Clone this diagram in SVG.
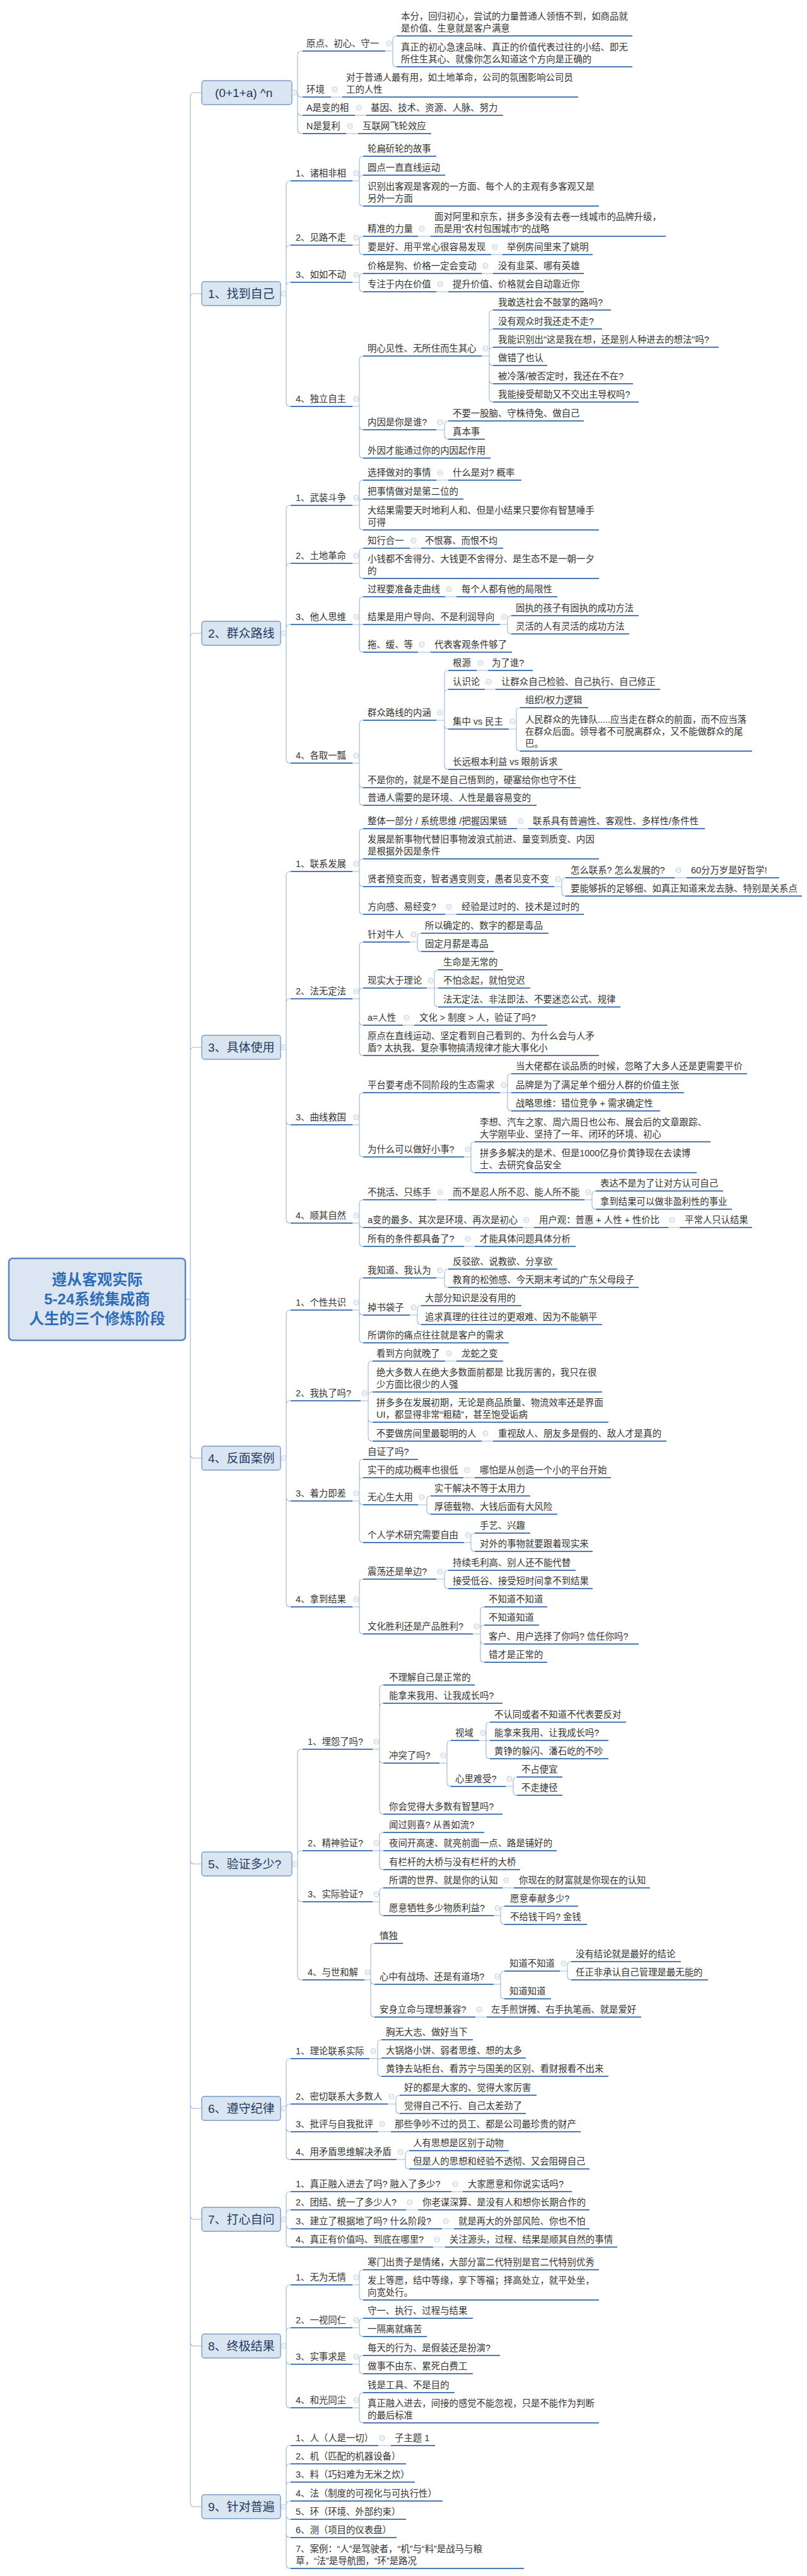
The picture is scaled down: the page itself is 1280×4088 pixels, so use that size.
<svg xmlns="http://www.w3.org/2000/svg" xmlns:xlink="http://www.w3.org/1999/xlink" width="1280" height="4088" viewBox="0 0 1280 4088">
<style>
.t{font-family:"Liberation Sans","Noto Sans CJK SC",sans-serif;font-size:14.4px;fill:#333}
.h{font-family:"Liberation Sans","Noto Sans CJK SC",sans-serif;font-size:19px;fill:#1f3a60}
.r{font-family:"Liberation Sans","Noto Sans CJK SC",sans-serif;font-size:24px;font-weight:bold;fill:#2f6db8}
.u{fill:none;stroke:#4d7ab5;stroke-width:2}
.c{fill:none;stroke:#9eb6d5;stroke-width:1.1}
.b{fill:#dae5f2;stroke:#7b9cc9;stroke-width:1.4}
.rb{fill:#dce6f3;stroke:#5b86c4;stroke-width:2.5}
</style>
<defs>
<g id="col"><circle r="4" fill="#fff" stroke="#b9c7d9" stroke-width="1"/><path d="M-2 0H2" stroke="#b9c7d9" stroke-width="1"/></g>
</defs>
<rect width="1280" height="4088" fill="#fff"/>
<g id="connectors">
<path class="c" d="M294 2062H302 M302 153V3972 M302 153Q302 147 308 147H320 M302 472Q302 466 308 466H320 M302 1011Q302 1005 308 1005H320 M302 1668Q302 1662 308 1662H320 M302 2308Q302 2314 308 2314H320 M302 2952Q302 2958 308 2958H320 M302 3340Q302 3346 308 3346H320 M302 3516Q302 3522 308 3522H320 M302 3717Q302 3723 308 3723H320 M302 3972Q302 3978 308 3978H320"/>
<path class="c" d="M463 147H472 M472 147V87Q472 81 478 81H480 M472 147V148Q472 154 478 154H480 M472 147V177Q472 183 478 183H480 M472 147V206Q472 212 478 212H480"/>
<path class="c" d="M611 81H623 M623 81V63Q623 57 629 57 M623 81V100Q623 106 629 106 M525 154H543 M563 183H581 M549 212H568"/>
<path class="c" d="M445 466H454 M454 466V293Q454 287 460 287H461 M454 466V395Q454 389 460 389H461 M454 466V454Q454 448 460 448H461 M454 466V639Q454 645 460 645H461"/>
<path class="c" d="M559 287H570 M570 287V254Q570 248 576 248 M570 287V284Q570 278 576 278 M570 287V321Q570 327 576 327"/>
<path class="c" d="M559 389H570 M570 389V381Q570 375 576 375 M570 389V398Q570 404 576 404 M663 375H683 M779 404H797"/>
<path class="c" d="M559 448H570 M570 448V440Q570 434 576 434 M570 448V457Q570 463 576 463 M764 434H782 M692 463H711"/>
<path class="c" d="M559 645H570 M570 645V571Q570 565 576 565 M570 645V676Q570 682 576 682 M570 645V721Q570 727 576 727"/>
<path class="c" d="M764 565H776 M776 565V498Q776 492 782 492 M776 565V528Q776 522 782 522 M776 565V557Q776 551 782 551 M776 565V574Q776 580 782 580 M776 565V603Q776 609 782 609 M776 565V632Q776 638 782 638"/>
<path class="c" d="M692 682H705 M705 682V674Q705 668 711 668 M705 682V691Q705 697 711 697"/>
<path class="c" d="M445 1005H454 M454 1005V808Q454 802 460 802H461 M454 1005V900Q454 894 460 894H461 M454 1005V997Q454 991 460 991H461 M454 1005V1205Q454 1211 460 1211H461"/>
<path class="c" d="M559 802H570 M570 802V768Q570 762 576 762 M570 802V798Q570 792 576 792 M570 802V835Q570 841 576 841 M692 762H711"/>
<path class="c" d="M559 894H570 M570 894V876Q570 870 576 870 M570 894V912Q570 918 576 918 M650 870H668"/>
<path class="c" d="M559 991H576 M570 991V953Q570 947 576 947 M570 991V1029Q570 1035 576 1035 M706 947H724 M663 1035H683"/>
<path class="c" d="M793 991H805 M805 991V983Q805 977 811 977 M805 991V1000Q805 1006 811 1006"/>
<path class="c" d="M559 1211H570 M570 1211V1149Q570 1143 576 1143 M570 1211V1244Q570 1250 576 1250 M570 1211V1272Q570 1278 576 1278"/>
<path class="c" d="M692 1143H705 M705 1143V1070Q705 1064 711 1064 M705 1143V1100Q705 1094 711 1094 M705 1143V1151Q705 1157 711 1157 M705 1143V1215Q705 1221 711 1221 M756 1064H774 M769 1094H786"/>
<path class="c" d="M807 1157H819 M819 1157V1129Q819 1123 825 1123 M819 1157V1186Q819 1192 825 1192"/>
<path class="c" d="M445 1662H454 M454 1662V1389Q454 1383 460 1383H461 M454 1662V1591Q454 1585 460 1585H461 M454 1662V1779Q454 1785 460 1785H461 M454 1662V1935Q454 1941 460 1941H461"/>
<path class="c" d="M559 1383H570 M570 1383V1321Q570 1315 576 1315 M570 1383V1369Q570 1363 576 1363 M570 1383V1401Q570 1407 576 1407 M570 1383V1445Q570 1451 576 1451 M820 1315H838 M706 1451H724"/>
<path class="c" d="M879 1407H891 M891 1407V1399Q891 1393 897 1393 M891 1407V1416Q891 1422 897 1422 M1070 1393H1089"/>
<path class="c" d="M559 1585H570 M570 1585V1501Q570 1495 576 1495 M570 1585V1574Q570 1568 576 1568 M570 1585V1621Q570 1627 576 1627 M570 1585V1669Q570 1675 576 1675 M639 1627H657"/>
<path class="c" d="M650 1495H662 M662 1495V1487Q662 1481 668 1481 M662 1495V1504Q662 1510 668 1510"/>
<path class="c" d="M677 1568H695 M689 1568V1545Q689 1539 695 1539 M689 1568V1592Q689 1598 695 1598"/>
<path class="c" d="M559 1785H570 M570 1785V1740Q570 1734 576 1734 M570 1785V1830Q570 1836 576 1836"/>
<path class="c" d="M793 1734H811 M805 1734V1710Q805 1704 811 1704 M805 1734V1757Q805 1763 811 1763"/>
<path class="c" d="M736 1836H747 M747 1836V1818Q747 1812 753 1812 M747 1836V1855Q747 1861 753 1861"/>
<path class="c" d="M559 1941H570 M570 1941V1910Q570 1904 576 1904 M570 1941V1942Q570 1948 576 1948 M570 1941V1972Q570 1978 576 1978 M692 1904H711 M829 1948H847 M1060 1948H1078 M736 1978H753"/>
<path class="c" d="M927 1904H939 M939 1904V1896Q939 1890 945 1890 M939 1904V1913Q939 1919 945 1919"/>
<path class="c" d="M445 2314H454 M454 2314V2085Q454 2079 460 2079H461 M454 2314V2229Q454 2223 460 2223H461 M454 2314V2376Q454 2382 460 2382H461 M454 2314V2544Q454 2550 460 2550H461"/>
<path class="c" d="M559 2079H570 M570 2079V2034Q570 2028 576 2028 M570 2079V2081Q570 2087 576 2087 M570 2079V2125Q570 2131 576 2131"/>
<path class="c" d="M692 2028H705 M705 2028V2020Q705 2014 711 2014 M705 2028V2037Q705 2043 711 2043"/>
<path class="c" d="M650 2087H662 M662 2087V2078Q662 2072 668 2072 M662 2087V2096Q662 2102 668 2102"/>
<path class="c" d="M572 2223H584 M584 2223V2166Q584 2160 590 2160H591 M584 2223V2215Q584 2209 590 2209H591 M584 2223V2251Q584 2257 590 2257H591 M584 2223V2281Q584 2287 590 2287H591 M706 2160H724 M764 2287H782"/>
<path class="c" d="M559 2382H570 M570 2382V2322Q570 2316 576 2316 M570 2382V2351Q570 2345 576 2345 M570 2382Q570 2388 576 2388 M570 2382V2442Q570 2448 576 2448 M735 2345H753"/>
<path class="c" d="M663 2388H677 M677 2388V2380Q677 2374 683 2374 M677 2388V2397Q677 2403 683 2403"/>
<path class="c" d="M736 2448H747 M747 2448V2439Q747 2433 753 2433 M747 2448V2456Q747 2462 753 2462"/>
<path class="c" d="M559 2550H570 M570 2550V2512Q570 2506 576 2506 M570 2550V2587Q570 2593 576 2593"/>
<path class="c" d="M692 2506H705 M705 2506V2498Q705 2492 711 2492 M705 2506V2515Q705 2521 711 2521"/>
<path class="c" d="M750 2593H762 M762 2593V2556Q762 2550 768 2550 M762 2593V2585Q762 2579 768 2579 M762 2593V2603Q762 2609 768 2609 M762 2593V2632Q762 2638 768 2638"/>
<path class="c" d="M463 2958H472 M472 2958V2782Q472 2776 478 2776H480 M472 2958V2943Q472 2937 478 2937H480 M472 2958V3012Q472 3018 478 3018H480 M472 2958V3136Q472 3142 478 3142H480"/>
<path class="c" d="M591 2776H602 M602 2776V2680Q602 2674 608 2674 M602 2776V2709Q602 2703 608 2703 M602 2776V2792Q602 2798 608 2798 M602 2776V2873Q602 2879 608 2879"/>
<path class="c" d="M697 2798H709 M709 2798V2768Q709 2762 715 2762 M709 2798V2829Q709 2835 715 2835"/>
<path class="c" d="M760 2762H777 M771 2762V2739Q771 2733 777 2733 M771 2762V2785Q771 2791 777 2791"/>
<path class="c" d="M802 2835H814 M814 2835V2826Q814 2820 820 2820 M814 2835V2843Q814 2849 820 2849"/>
<path class="c" d="M591 2937H608 M602 2937V2914Q602 2908 608 2908 M602 2937V2961Q602 2967 608 2967"/>
<path class="c" d="M591 3018H602 M602 3018V3002Q602 2996 608 2996 M602 3018V3034Q602 3040 608 3040 M797 2996H815"/>
<path class="c" d="M783 3040H794 M794 3040V3031Q794 3025 800 3025 M794 3040V3048Q794 3054 800 3054"/>
<path class="c" d="M578 3142H588 M588 3142V3090Q588 3084 594 3084 M588 3142V3143Q588 3149 594 3149 M588 3142V3195Q588 3201 594 3201 M754 3201H772"/>
<path class="c" d="M783 3149H794 M794 3149V3134Q794 3128 800 3128 M794 3149V3166Q794 3172 800 3172"/>
<path class="c" d="M888 3128H900 M900 3128V3119Q900 3113 906 3113 M900 3128V3136Q900 3142 906 3142"/>
<path class="c" d="M445 3346H454 M454 3346V3273Q454 3267 460 3267H461 M454 3346V3345Q454 3339 460 3339H461 M454 3346V3377Q454 3383 460 3383H461 M454 3346V3421Q454 3427 460 3427H461"/>
<path class="c" d="M586 3267H605 M599 3267V3243Q599 3237 605 3237 M599 3267V3289Q599 3295 605 3295"/>
<path class="c" d="M615 3339H628 M628 3339V3331Q628 3325 634 3325 M628 3339V3348Q628 3354 634 3354 M600 3383H620"/>
<path class="c" d="M629 3427H643 M643 3427V3419Q643 3413 649 3413 M643 3427V3436Q643 3442 649 3442"/>
<path class="c" d="M445 3522H454 M454 3522V3484Q454 3478 460 3478H461 M454 3522V3513Q454 3507 460 3507H461 M454 3522V3531Q454 3537 460 3537H461 M454 3522V3560Q454 3566 460 3566H461 M716 3478H734 M644 3507H663 M701 3537H720 M687 3566H706"/>
<path class="c" d="M445 3723H454 M454 3723V3632Q454 3626 460 3626H461 M454 3723V3700Q454 3694 460 3694H461 M454 3723V3746Q454 3752 460 3752H461 M454 3723V3815Q454 3821 460 3821H461"/>
<path class="c" d="M559 3626H570 M570 3626V3608Q570 3602 576 3602 M570 3626V3644Q570 3650 576 3650 M559 3694H570 M570 3694V3685Q570 3679 576 3679 M570 3694V3702Q570 3708 576 3708"/>
<path class="c" d="M559 3752H570 M570 3752V3744Q570 3738 576 3738 M570 3752V3761Q570 3767 576 3767 M559 3821H570 M570 3821V3803Q570 3797 576 3797 M570 3821V3839Q570 3845 576 3845"/>
<path class="c" d="M445 3978H454 M454 3978V3887Q454 3881 460 3881H461 M454 3978V3916Q454 3910 460 3910H461 M454 3978V3945Q454 3939 460 3939H461 M454 3978V3975Q454 3969 460 3969H461 M454 3978V3992Q454 3998 460 3998H461 M454 3978V4021Q454 4027 460 4027H461 M454 3978V4070Q454 4076 460 4076H461 M600 3881H620"/>
</g>

<g id="root"><rect class="rb" x="14" y="1997" width="280" height="130" rx="6"/><text class="r" text-anchor="middle"><tspan x="154" y="2039">遵从客观实际</tspan><tspan x="154" y="2070">5-24系统集成商</tspan><tspan x="154" y="2101">人生的三个修炼阶段</tspan></text></g>

<g id="n1"><rect class="b" x="320" y="128" width="143" height="38" rx="4"/><text class="h" x="341" y="154">(0+1+a)  ^n</text><use href="#col" x="467" y="147"/></g>
<g id="n1-1"><text class="t" x="486" y="74">原点、初心、守一</text><path class="u" d="M480 81H611"/><use href="#col" x="617" y="69"/></g>
<g id="n1-1a"><text class="t"><tspan x="636" y="31">本分，回归初心，尝试的力量普通人领悟不到，如商品就</tspan><tspan x="636" y="50">是价值、生意就是客户满意</tspan></text><path class="u" d="M629 57H1003"/></g>
<g id="n1-1b"><text class="t"><tspan x="636" y="80">真正的初心急速品味、真正的价值代表过往的小结、即无</tspan><tspan x="636" y="99">所住生其心、就像你怎么知道这个方向是正确的</tspan></text><path class="u" d="M629 106H1003"/></g>
<g id="n1-2"><text class="t" x="486" y="147">环境</text><path class="u" d="M480 154H525"/><use href="#col" x="531" y="142"/></g>
<g id="n1-2a"><text class="t"><tspan x="549" y="128">对于普通人最有用，如土地革命，公司的氛围影响公司员</tspan><tspan x="549" y="147">工的人性</tspan></text><path class="u" d="M543 154H917"/></g>
<g id="n1-3"><text class="t" x="486" y="176">A是变的相</text><path class="u" d="M480 183H563"/><use href="#col" x="569" y="171"/></g>
<g id="n1-3a"><text class="t" x="588" y="176">基因、技术、资源、人脉、努力</text><path class="u" d="M581 183H798"/></g>
<g id="n1-4"><text class="t" x="486" y="205">N是复利</text><path class="u" d="M480 212H549"/><use href="#col" x="555" y="200"/></g>
<g id="n1-4a"><text class="t" x="575" y="205">互联网飞轮效应</text><path class="u" d="M568 212H684"/></g>

<g id="n2"><rect class="b" x="320" y="447" width="125" height="38" rx="4"/><text class="h" x="330" y="473">1、找到自己</text><use href="#col" x="450" y="466"/></g>
<g id="n2-1"><text class="t" x="469" y="280">1、诸相非相</text><path class="u" d="M461 287H559"/><use href="#col" x="565" y="275"/></g>
<g id="n2-1a"><text class="t" x="583" y="241">轮扁斫轮的故事</text><path class="u" d="M576 248H692"/></g>
<g id="n2-1b"><text class="t" x="583" y="271">圆点一直直线运动</text><path class="u" d="M576 278H706"/></g>
<g id="n2-1c"><text class="t"><tspan x="583" y="301">识别出客观是客观的一方面、每个人的主观有多客观又是</tspan><tspan x="583" y="320">另外一方面</tspan></text><path class="u" d="M576 327H950"/></g>
<g id="n2-2"><text class="t" x="469" y="382">2、见路不走</text><path class="u" d="M461 389H559"/><use href="#col" x="565" y="377"/></g>
<g id="n2-2a"><text class="t" x="583" y="368">精准的力量</text><path class="u" d="M576 375H663"/><use href="#col" x="669" y="363"/></g>
<g id="n2-2a1"><text class="t"><tspan x="689" y="349">面对阿里和京东，拼多多没有去卷一线城市的品牌升级，</tspan><tspan x="689" y="368">而是用“农村包围城市”的战略</tspan></text><path class="u" d="M683 375H1056"/></g>
<g id="n2-2b"><text class="t" x="583" y="397">要是好、用平常心很容易发现</text><path class="u" d="M576 404H779"/><use href="#col" x="785" y="392"/></g>
<g id="n2-2b1"><text class="t" x="804" y="397">举例房间里来了姚明</text><path class="u" d="M797 404H940"/></g>
<g id="n2-3"><text class="t" x="469" y="441">3、如如不动</text><path class="u" d="M461 448H559"/><use href="#col" x="565" y="436"/></g>
<g id="n2-3a"><text class="t" x="583" y="427">价格是狗、价格一定会变动</text><path class="u" d="M576 434H764"/><use href="#col" x="770" y="422"/></g>
<g id="n2-3a1"><text class="t" x="790" y="427">没有韭菜、哪有英雄</text><path class="u" d="M782 434H926"/></g>
<g id="n2-3b"><text class="t" x="583" y="456">专注于内在价值</text><path class="u" d="M576 463H692"/><use href="#col" x="698" y="451"/></g>
<g id="n2-3b1"><text class="t" x="718" y="456">提升价值、价格就会自动靠近你</text><path class="u" d="M711 463H926"/></g>
<g id="n2-4"><text class="t" x="469" y="638">4、独立自主</text><path class="u" d="M461 645H559"/><use href="#col" x="565" y="633"/></g>
<g id="n2-4a"><text class="t" x="583" y="558">明心见性、无所住而生其心</text><path class="u" d="M576 565H764"/><use href="#col" x="770" y="553"/></g>
<g id="n2-4a1"><text class="t" x="790" y="485">我敢选社会不鼓掌的路吗?</text><path class="u" d="M782 492H969"/></g>
<g id="n2-4a2"><text class="t" x="790" y="515">没有观众时我还走不走?</text><path class="u" d="M782 522H955"/></g>
<g id="n2-4a3"><text class="t" x="790" y="544">我能识别出"这是我在想，还是别人种进去的想法"吗?</text><path class="u" d="M782 551H1140"/></g>
<g id="n2-4a4"><text class="t" x="790" y="573">做错了也认</text><path class="u" d="M782 580H868"/></g>
<g id="n2-4a5"><text class="t" x="790" y="602">被冷落/被否定时，我还在不在?</text><path class="u" d="M782 609H1004"/></g>
<g id="n2-4a6"><text class="t" x="790" y="631">我能接受帮助又不交出主导权吗?</text><path class="u" d="M782 638H1013"/></g>
<g id="n2-4b"><text class="t" x="583" y="675">内因是你是谁?</text><path class="u" d="M576 682H692"/><use href="#col" x="698" y="670"/></g>
<g id="n2-4b1"><text class="t" x="718" y="661">不要一股脑、守株待兔、做自己</text><path class="u" d="M711 668H926"/></g>
<g id="n2-4b2"><text class="t" x="718" y="690">真本事</text><path class="u" d="M711 697H769"/></g>
<g id="n2-4c"><text class="t" x="583" y="720">外因才能通过你的内因起作用</text><path class="u" d="M576 727H778"/></g>

<g id="n3"><rect class="b" x="320" y="986" width="125" height="38" rx="4"/><text class="h" x="330" y="1012">2、群众路线</text><use href="#col" x="450" y="1005"/></g>
<g id="n3-1"><text class="t" x="469" y="795">1、武装斗争</text><path class="u" d="M461 802H559"/><use href="#col" x="565" y="790"/></g>
<g id="n3-1a"><text class="t" x="583" y="755">选择做对的事情</text><path class="u" d="M576 762H692"/><use href="#col" x="698" y="750"/></g>
<g id="n3-1a1"><text class="t" x="718" y="755">什么是对? 概率</text><path class="u" d="M711 762H827"/></g>
<g id="n3-1b"><text class="t" x="583" y="785">把事情做对是第二位的</text><path class="u" d="M576 792H735"/></g>
<g id="n3-1c"><text class="t"><tspan x="583" y="815">大结果需要天时地利人和、但是小结果只要你有智慧唾手</tspan><tspan x="583" y="834">可得</tspan></text><path class="u" d="M576 841H950"/></g>
<g id="n3-2"><text class="t" x="469" y="887">2、土地革命</text><path class="u" d="M461 894H559"/><use href="#col" x="565" y="882"/></g>
<g id="n3-2a"><text class="t" x="583" y="863">知行合一</text><path class="u" d="M576 870H650"/><use href="#col" x="656" y="858"/></g>
<g id="n3-2a1"><text class="t" x="674" y="863">不恨寡、而恨不均</text><path class="u" d="M668 870H798"/></g>
<g id="n3-2b"><text class="t"><tspan x="583" y="892">小钱都不舍得分、大钱更不舍得分、是生态不是一朝一夕</tspan><tspan x="583" y="911">的</tspan></text><path class="u" d="M576 918H950"/></g>
<g id="n3-3"><text class="t" x="469" y="984">3、他人思维</text><path class="u" d="M461 991H559"/><use href="#col" x="565" y="979"/></g>
<g id="n3-3a"><text class="t" x="583" y="940">过程要准备走曲线</text><path class="u" d="M576 947H706"/><use href="#col" x="712" y="935"/></g>
<g id="n3-3a1"><text class="t" x="732" y="940">每个人都有他的局限性</text><path class="u" d="M724 947H884"/></g>
<g id="n3-3b"><text class="t" x="583" y="984">结果是用户导向、不是利润导向</text><path class="u" d="M576 991H793"/><use href="#col" x="799" y="979"/></g>
<g id="n3-3b1"><text class="t" x="818" y="970">固执的孩子有固执的成功方法</text><path class="u" d="M811 977H1013"/></g>
<g id="n3-3b2"><text class="t" x="818" y="999">灵活的人有灵活的成功方法</text><path class="u" d="M811 1006H998"/></g>
<g id="n3-3c"><text class="t" x="583" y="1028">拖、缓、等</text><path class="u" d="M576 1035H663"/><use href="#col" x="669" y="1023"/></g>
<g id="n3-3c1"><text class="t" x="689" y="1028">代表客观条件够了</text><path class="u" d="M683 1035H812"/></g>
<g id="n3-4"><text class="t" x="469" y="1204">4、各取一瓢</text><path class="u" d="M461 1211H559"/><use href="#col" x="565" y="1199"/></g>
<g id="n3-4a"><text class="t" x="583" y="1136">群众路线的内涵</text><path class="u" d="M576 1143H692"/><use href="#col" x="698" y="1131"/></g>
<g id="n3-4a1"><text class="t" x="718" y="1057">根源</text><path class="u" d="M711 1064H756"/><use href="#col" x="762" y="1052"/></g>
<g id="n3-4a1a"><text class="t" x="780" y="1057">为了谁?</text><path class="u" d="M774 1064H845"/></g>
<g id="n3-4a2"><text class="t" x="718" y="1087">认识论</text><path class="u" d="M711 1094H769"/><use href="#col" x="775" y="1082"/></g>
<g id="n3-4a2a"><text class="t" x="795" y="1087">让群众自己检验、自己执行、自己修正</text><path class="u" d="M786 1094H1047"/></g>
<g id="n3-4a3"><text class="t" x="718" y="1150">集中 vs 民主</text><path class="u" d="M711 1157H807"/><use href="#col" x="813" y="1145"/></g>
<g id="n3-4a3a"><text class="t" x="833" y="1116">组织/权力逻辑</text><path class="u" d="M825 1123H933"/></g>
<g id="n3-4a3b"><text class="t"><tspan x="833" y="1147">人民群众的先锋队.....应当走在群众的前面，而不应当落</tspan><tspan x="833" y="1166">在群众后面。领导者不可脱离群众，又不能做群众的尾</tspan><tspan x="833" y="1185">巴。</tspan></text><path class="u" d="M825 1192H1193"/></g>
<g id="n3-4a4"><text class="t" x="718" y="1214">长远根本利益 vs 眼前诉求</text><path class="u" d="M711 1221H892"/></g>
<g id="n3-4b"><text class="t" x="583" y="1243">不是你的，就是不是自己悟到的，硬塞给你也守不住</text><path class="u" d="M576 1250H921"/></g>
<g id="n3-4c"><text class="t" x="583" y="1271">普通人需要的是环境、人性是最容易变的</text><path class="u" d="M576 1278H851"/></g>

<g id="n4"><rect class="b" x="320" y="1643" width="125" height="38" rx="4"/><text class="h" x="330" y="1669">3、具体使用</text><use href="#col" x="450" y="1662"/></g>
<g id="n4-1"><text class="t" x="469" y="1376">1、联系发展</text><path class="u" d="M461 1383H559"/><use href="#col" x="565" y="1371"/></g>
<g id="n4-1a"><text class="t" x="583" y="1308">整体一部分 / 系统思维 /把握因果链</text><path class="u" d="M576 1315H820"/><use href="#col" x="826" y="1303"/></g>
<g id="n4-1a1"><text class="t" x="845" y="1308">联系具有普遍性、客观性、多样性/条件性</text><path class="u" d="M838 1315H1118"/></g>
<g id="n4-1b"><text class="t"><tspan x="583" y="1337">发展是新事物代替旧事物波浪式前进、量变到质变、内因</tspan><tspan x="583" y="1356">是根据外因是条件</tspan></text><path class="u" d="M576 1363H950"/></g>
<g id="n4-1c"><text class="t" x="583" y="1400">贤者预变而变，智者遇变则变，愚者见变不变</text><path class="u" d="M576 1407H879"/><use href="#col" x="885" y="1395"/></g>
<g id="n4-1c1"><text class="t" x="905" y="1386">怎么联系? 怎么发展的?</text><path class="u" d="M897 1393H1070"/><use href="#col" x="1076" y="1381"/></g>
<g id="n4-1c1a"><text class="t" x="1096" y="1386">60分万岁是好哲学!</text><path class="u" d="M1089 1393H1236"/></g>
<g id="n4-1c2"><text class="t" x="905" y="1415">要能够拆的足够细、如真正知道来龙去脉、特别是关系点</text><path class="u" d="M897 1422H1272"/></g>
<g id="n4-1d"><text class="t" x="583" y="1444">方向感、易经变?</text><path class="u" d="M576 1451H706"/><use href="#col" x="712" y="1439"/></g>
<g id="n4-1d1"><text class="t" x="732" y="1444">经验是过时的、技术是过时的</text><path class="u" d="M724 1451H926"/></g>
<g id="n4-2"><text class="t" x="469" y="1578">2、法无定法</text><path class="u" d="M461 1585H559"/><use href="#col" x="565" y="1573"/></g>
<g id="n4-2a"><text class="t" x="583" y="1488">针对牛人</text><path class="u" d="M576 1495H650"/><use href="#col" x="656" y="1483"/></g>
<g id="n4-2a1"><text class="t" x="674" y="1474">所以确定的、数字的都是毒品</text><path class="u" d="M668 1481H870"/></g>
<g id="n4-2a2"><text class="t" x="674" y="1503">固定月薪是毒品</text><path class="u" d="M668 1510H783"/></g>
<g id="n4-2b"><text class="t" x="583" y="1561">现实大于理论</text><path class="u" d="M576 1568H677"/><use href="#col" x="683" y="1556"/></g>
<g id="n4-2b1"><text class="t" x="703" y="1532">生命是无常的</text><path class="u" d="M695 1539H798"/></g>
<g id="n4-2b2"><text class="t" x="703" y="1561">不怕念起，就怕觉迟</text><path class="u" d="M695 1568H841"/></g>
<g id="n4-2b3"><text class="t" x="703" y="1591">法无定法、非法即法、不要迷恋公式、规律</text><path class="u" d="M695 1598H984"/></g>
<g id="n4-2c"><text class="t" x="583" y="1620">a=人性</text><path class="u" d="M576 1627H639"/><use href="#col" x="645" y="1615"/></g>
<g id="n4-2c1"><text class="t" x="665" y="1620">文化 &gt; 制度 &gt; 人，验证了吗?</text><path class="u" d="M657 1627H868"/></g>
<g id="n4-2d"><text class="t"><tspan x="583" y="1649">原点在直线运动、坚定看到自己看到的、为什么会与人矛</tspan><tspan x="583" y="1668">盾? 太执我、复杂事物搞清规律才能大事化小</tspan></text><path class="u" d="M576 1675H950"/></g>
<g id="n4-3"><text class="t" x="469" y="1778">3、曲线救国</text><path class="u" d="M461 1785H559"/><use href="#col" x="565" y="1773"/></g>
<g id="n4-3a"><text class="t" x="583" y="1727">平台要考虑不同阶段的生态需求</text><path class="u" d="M576 1734H793"/><use href="#col" x="799" y="1722"/></g>
<g id="n4-3a1"><text class="t" x="818" y="1697">当大佬都在谈品质的时候，忽略了大多人还是更需要平价</text><path class="u" d="M811 1704H1185"/></g>
<g id="n4-3a2"><text class="t" x="818" y="1727">品牌是为了满足单个细分人群的价值主张</text><path class="u" d="M811 1734H1085"/></g>
<g id="n4-3a3"><text class="t" x="818" y="1756">战略思维：错位竞争 + 需求确定性</text><path class="u" d="M811 1763H1047"/></g>
<g id="n4-3b"><text class="t" x="583" y="1829">为什么可以做好小事?</text><path class="u" d="M576 1836H736"/><use href="#col" x="742" y="1824"/></g>
<g id="n4-3b1"><text class="t"><tspan x="761" y="1786">李想、汽车之家、周六周日也公布、展会后的文章跟踪、</tspan><tspan x="761" y="1805">大学刚毕业、坚持了一年、闭环的环境、初心</tspan></text><path class="u" d="M753 1812H1127"/></g>
<g id="n4-3b2"><text class="t"><tspan x="761" y="1835">拼多多解决的是术、但是1000亿身价黄铮现在去读博</tspan><tspan x="761" y="1854">士、去研究食品安全</tspan></text><path class="u" d="M753 1861H1105"/></g>
<g id="n4-4"><text class="t" x="469" y="1934">4、顺其自然</text><path class="u" d="M461 1941H559"/><use href="#col" x="565" y="1929"/></g>
<g id="n4-4a"><text class="t" x="583" y="1897">不挑活、只练手</text><path class="u" d="M576 1904H692"/><use href="#col" x="698" y="1892"/></g>
<g id="n4-4a1"><text class="t" x="718" y="1897">而不是忍人所不忍、能人所不能</text><path class="u" d="M711 1904H927"/><use href="#col" x="933" y="1892"/></g>
<g id="n4-4a1a"><text class="t" x="952" y="1883">表达不是为了让对方认可自己</text><path class="u" d="M945 1890H1147"/></g>
<g id="n4-4a1b"><text class="t" x="952" y="1912">拿到结果可以做非盈利性的事业</text><path class="u" d="M945 1919H1161"/></g>
<g id="n4-4b"><text class="t" x="583" y="1941">a变的最多、其次是环境、再次是初心</text><path class="u" d="M576 1948H829"/><use href="#col" x="835" y="1936"/></g>
<g id="n4-4b1"><text class="t" x="855" y="1941">用户观：普惠 + 人性 + 性价比</text><path class="u" d="M847 1948H1060"/><use href="#col" x="1066" y="1936"/></g>
<g id="n4-4b1a"><text class="t" x="1086" y="1941">平常人只认结果</text><path class="u" d="M1078 1948H1193"/></g>
<g id="n4-4c"><text class="t" x="583" y="1971">所有的条件都具备了?</text><path class="u" d="M576 1978H736"/><use href="#col" x="742" y="1966"/></g>
<g id="n4-4c1"><text class="t" x="761" y="1971">才能具体问题具体分析</text><path class="u" d="M753 1978H913"/></g>

<g id="n5"><rect class="b" x="320" y="2295" width="125" height="38" rx="4"/><text class="h" x="330" y="2321">4、反面案例</text><use href="#col" x="450" y="2314"/></g>
<g id="n5-1"><text class="t" x="469" y="2072">1、个性共识</text><path class="u" d="M461 2079H559"/><use href="#col" x="565" y="2067"/></g>
<g id="n5-1a"><text class="t" x="583" y="2021">我知道、我认为</text><path class="u" d="M576 2028H692"/><use href="#col" x="698" y="2016"/></g>
<g id="n5-1a1"><text class="t" x="718" y="2007">反驳欲、说教欲、分享欲</text><path class="u" d="M711 2014H884"/></g>
<g id="n5-1a2"><text class="t" x="718" y="2036">教育的松弛感、今天期末考试的广东父母段子</text><path class="u" d="M711 2043H1013"/></g>
<g id="n5-1b"><text class="t" x="583" y="2080">掉书袋子</text><path class="u" d="M576 2087H650"/><use href="#col" x="656" y="2075"/></g>
<g id="n5-1b1"><text class="t" x="674" y="2065">大部分知识是没有用的</text><path class="u" d="M668 2072H827"/></g>
<g id="n5-1b2"><text class="t" x="674" y="2095">追求真理的往往过的更艰难、因为不能躺平</text><path class="u" d="M668 2102H955"/></g>
<g id="n5-1c"><text class="t" x="583" y="2124">所谓你的痛点往往就是客户的需求</text><path class="u" d="M576 2131H807"/></g>
<g id="n5-2"><text class="t" x="469" y="2216">2、我执了吗?</text><path class="u" d="M461 2223H572"/><use href="#col" x="578" y="2211"/></g>
<g id="n5-2a"><text class="t" x="597" y="2153">看到方向就晚了</text><path class="u" d="M591 2160H706"/><use href="#col" x="712" y="2148"/></g>
<g id="n5-2a1"><text class="t" x="732" y="2153">龙蛇之变</text><path class="u" d="M724 2160H798"/></g>
<g id="n5-2b"><text class="t"><tspan x="597" y="2183">绝大多数人在绝大多数面前都是 比我厉害的，我只在很</tspan><tspan x="597" y="2202">少方面比很少的人强</tspan></text><path class="u" d="M591 2209H955"/></g>
<g id="n5-2c"><text class="t"><tspan x="597" y="2231">拼多多在发展初期，无论是商品质量、物流效率还是界面</tspan><tspan x="597" y="2250">UI，都显得非常“粗糙”，甚至饱受诟病</tspan></text><path class="u" d="M591 2257H965"/></g>
<g id="n5-2d"><text class="t" x="597" y="2280">不要做房间里最聪明的人</text><path class="u" d="M591 2287H764"/><use href="#col" x="770" y="2275"/></g>
<g id="n5-2d1"><text class="t" x="790" y="2280">重视敌人、朋友多是假的、敌人才是真的</text><path class="u" d="M782 2287H1057"/></g>
<g id="n5-3"><text class="t" x="469" y="2375">3、着力即差</text><path class="u" d="M461 2382H559"/><use href="#col" x="565" y="2370"/></g>
<g id="n5-3a"><text class="t" x="583" y="2309">自证了吗?</text><path class="u" d="M576 2316H663"/></g>
<g id="n5-3b"><text class="t" x="583" y="2338">实干的成功概率也很低</text><path class="u" d="M576 2345H735"/><use href="#col" x="741" y="2333"/></g>
<g id="n5-3b1"><text class="t" x="761" y="2338">哪怕是从创造一个小的平台开始</text><path class="u" d="M753 2345H969"/></g>
<g id="n5-3c"><text class="t" x="583" y="2381">无心生大用</text><path class="u" d="M576 2388H663"/><use href="#col" x="669" y="2376"/></g>
<g id="n5-3c1"><text class="t" x="689" y="2367">实干解决不等于太用力</text><path class="u" d="M683 2374H841"/></g>
<g id="n5-3c2"><text class="t" x="689" y="2396">厚德载物、大钱后面有大风险</text><path class="u" d="M683 2403H884"/></g>
<g id="n5-3d"><text class="t" x="583" y="2441">个人学术研究需要自由</text><path class="u" d="M576 2448H736"/><use href="#col" x="742" y="2436"/></g>
<g id="n5-3d1"><text class="t" x="761" y="2426">手艺、兴趣</text><path class="u" d="M753 2433H841"/></g>
<g id="n5-3d2"><text class="t" x="761" y="2455">对外的事物就要跟着现实来</text><path class="u" d="M753 2462H940"/></g>
<g id="n5-4"><text class="t" x="469" y="2543">4、拿到结果</text><path class="u" d="M461 2550H559"/><use href="#col" x="565" y="2538"/></g>
<g id="n5-4a"><text class="t" x="583" y="2499">震荡还是单边?</text><path class="u" d="M576 2506H692"/><use href="#col" x="698" y="2494"/></g>
<g id="n5-4a1"><text class="t" x="718" y="2485">持续毛利高、别人还不能代替</text><path class="u" d="M711 2492H913"/></g>
<g id="n5-4a2"><text class="t" x="718" y="2514">接受低谷、接受短时间拿不到结果</text><path class="u" d="M711 2521H940"/></g>
<g id="n5-4b"><text class="t" x="583" y="2586">文化胜利还是产品胜利?</text><path class="u" d="M576 2593H750"/><use href="#col" x="756" y="2581"/></g>
<g id="n5-4b1"><text class="t" x="775" y="2543">不知道不知道</text><path class="u" d="M768 2550H868"/></g>
<g id="n5-4b2"><text class="t" x="775" y="2572">不知道知道</text><path class="u" d="M768 2579H855"/></g>
<g id="n5-4b3"><text class="t" x="775" y="2602">客户、用户选择了你吗? 信任你吗?</text><path class="u" d="M768 2609H1013"/></g>
<g id="n5-4b4"><text class="t" x="775" y="2631">错才是正常的</text><path class="u" d="M768 2638H868"/></g>

<g id="n6"><rect class="b" x="320" y="2939" width="143" height="38" rx="4"/><text class="h" x="330" y="2965">5、验证多少?</text><use href="#col" x="468" y="2958"/></g>
<g id="n6-1"><text class="t" x="488" y="2769">1、埋怨了吗?</text><path class="u" d="M480 2776H591"/><use href="#col" x="597" y="2764"/></g>
<g id="n6-1a"><text class="t" x="617" y="2667">不理解自己是正常的</text><path class="u" d="M608 2674H753"/></g>
<g id="n6-1b"><text class="t" x="617" y="2696">能拿来我用、让我成长吗?</text><path class="u" d="M608 2703H797"/></g>
<g id="n6-1c"><text class="t" x="617" y="2791">冲突了吗?</text><path class="u" d="M608 2798H697"/><use href="#col" x="703" y="2786"/></g>
<g id="n6-1c1"><text class="t" x="722" y="2755">视域</text><path class="u" d="M715 2762H760"/><use href="#col" x="766" y="2750"/></g>
<g id="n6-1c1a"><text class="t" x="784" y="2726">不认同或者不知道不代表要反对</text><path class="u" d="M777 2733H993"/></g>
<g id="n6-1c1b"><text class="t" x="784" y="2755">能拿来我用、让我成长吗?</text><path class="u" d="M777 2762H965"/></g>
<g id="n6-1c1c"><text class="t" x="784" y="2784">黄铮的躲闪、潘石屹的不吵</text><path class="u" d="M777 2791H965"/></g>
<g id="n6-1c2"><text class="t" x="722" y="2828">心里难受?</text><path class="u" d="M715 2835H802"/><use href="#col" x="808" y="2823"/></g>
<g id="n6-1c2a"><text class="t" x="827" y="2813">不占便宜</text><path class="u" d="M820 2820H892"/></g>
<g id="n6-1c2b"><text class="t" x="827" y="2842">不走捷径</text><path class="u" d="M820 2849H892"/></g>
<g id="n6-1d"><text class="t" x="617" y="2872">你会觉得大多数有智慧吗?</text><path class="u" d="M608 2879H797"/></g>
<g id="n6-2"><text class="t" x="488" y="2930">2、精神验证?</text><path class="u" d="M480 2937H591"/><use href="#col" x="597" y="2925"/></g>
<g id="n6-2a"><text class="t" x="617" y="2901">闻过则喜? 从善如流?</text><path class="u" d="M608 2908H768"/></g>
<g id="n6-2b"><text class="t" x="617" y="2930">夜间开高速、就亮前面一点、路是铺好的</text><path class="u" d="M608 2937H883"/></g>
<g id="n6-2c"><text class="t" x="617" y="2960">有栏杆的大桥与没有栏杆的大桥</text><path class="u" d="M608 2967H825"/></g>
<g id="n6-3"><text class="t" x="488" y="3011">3、实际验证?</text><path class="u" d="M480 3018H591"/><use href="#col" x="597" y="3006"/></g>
<g id="n6-3a"><text class="t" x="617" y="2989">所谓的世界、就是你的认知</text><path class="u" d="M608 2996H797"/><use href="#col" x="803" y="2984"/></g>
<g id="n6-3a1"><text class="t" x="823" y="2989">你现在的财富就是你现在的认知</text><path class="u" d="M815 2996H1031"/></g>
<g id="n6-3b"><text class="t" x="617" y="3033">愿意牺牲多少物质利益?</text><path class="u" d="M608 3040H783"/><use href="#col" x="789" y="3028"/></g>
<g id="n6-3b1"><text class="t" x="809" y="3018">愿意奉献多少?</text><path class="u" d="M800 3025H917"/></g>
<g id="n6-3b2"><text class="t" x="809" y="3047">不给钱干吗? 金钱</text><path class="u" d="M800 3054H931"/></g>
<g id="n6-4"><text class="t" x="488" y="3135">4、与世和解</text><path class="u" d="M480 3142H578"/><use href="#col" x="583" y="3130"/></g>
<g id="n6-4a"><text class="t" x="602" y="3077">慎独</text><path class="u" d="M594 3084H639"/></g>
<g id="n6-4b"><text class="t" x="602" y="3142">心中有战场、还是有道场?</text><path class="u" d="M594 3149H783"/><use href="#col" x="789" y="3137"/></g>
<g id="n6-4b1"><text class="t" x="808" y="3121">知道不知道</text><path class="u" d="M800 3128H888"/><use href="#col" x="894" y="3116"/></g>
<g id="n6-4b1a"><text class="t" x="913" y="3106">没有结论就是最好的结论</text><path class="u" d="M906 3113H1080"/></g>
<g id="n6-4b1b"><text class="t" x="913" y="3135">任正非承认自己管理是最无能的</text><path class="u" d="M906 3142H1123"/></g>
<g id="n6-4b2"><text class="t" x="808" y="3165">知道知道</text><path class="u" d="M800 3172H874"/></g>
<g id="n6-4c"><text class="t" x="602" y="3194">安身立命与理想兼容?</text><path class="u" d="M594 3201H754"/><use href="#col" x="760" y="3189"/></g>
<g id="n6-4c1"><text class="t" x="779" y="3194">左手煎饼摊、右手执笔画、就是爱好</text><path class="u" d="M772 3201H1017"/></g>

<g id="n7"><rect class="b" x="320" y="3327" width="125" height="38" rx="4"/><text class="h" x="330" y="3353">6、遵守纪律</text><use href="#col" x="450" y="3346"/></g>
<g id="n7-1"><text class="t" x="469" y="3260">1、理论联系实际</text><path class="u" d="M461 3267H586"/><use href="#col" x="592" y="3255"/></g>
<g id="n7-1a"><text class="t" x="612" y="3230">胸无大志、做好当下</text><path class="u" d="M605 3237H750"/></g>
<g id="n7-1b"><text class="t" x="612" y="3259">大锅烙小饼、弱者思维、想的太多</text><path class="u" d="M605 3266H834"/></g>
<g id="n7-1c"><text class="t" x="612" y="3288">黄铮去站柜台、看苏宁与国美的区别、看财报看不出来</text><path class="u" d="M605 3295H965"/></g>
<g id="n7-2"><text class="t" x="469" y="3332">2、密切联系大多数人</text><path class="u" d="M461 3339H615"/><use href="#col" x="621" y="3327"/></g>
<g id="n7-2a"><text class="t" x="641" y="3318">好的都是大家的、觉得大家厉害</text><path class="u" d="M634 3325H851"/></g>
<g id="n7-2b"><text class="t" x="641" y="3347">觉得自己不行、自己太差劲了</text><path class="u" d="M634 3354H834"/></g>
<g id="n7-3"><text class="t" x="469" y="3376">3、批评与自我批评</text><path class="u" d="M461 3383H600"/><use href="#col" x="606" y="3371"/></g>
<g id="n7-3a"><text class="t" x="626" y="3376">那些争吵不过的员工、都是公司最珍贵的财产</text><path class="u" d="M620 3383H921"/></g>
<g id="n7-4"><text class="t" x="469" y="3420">4、用矛盾思维解决矛盾</text><path class="u" d="M461 3427H629"/><use href="#col" x="635" y="3415"/></g>
<g id="n7-4a"><text class="t" x="655" y="3406">人有思想是区别于动物</text><path class="u" d="M649 3413H807"/></g>
<g id="n7-4b"><text class="t" x="655" y="3435">但是人的思想和经验不透彻、又会阻碍自己</text><path class="u" d="M649 3442H935"/></g>

<g id="n8"><rect class="b" x="320" y="3503" width="125" height="38" rx="4"/><text class="h" x="330" y="3529">7、打心自问</text><use href="#col" x="450" y="3522"/></g>
<g id="n8-1"><text class="t" x="469" y="3471">1、真正融入进去了吗? 融入了多少?</text><path class="u" d="M461 3478H716"/><use href="#col" x="722" y="3466"/></g>
<g id="n8-1a"><text class="t" x="742" y="3471">大家愿意和你说实话吗?</text><path class="u" d="M734 3478H907"/></g>
<g id="n8-2"><text class="t" x="469" y="3500">2、团结、统一了多少人?</text><path class="u" d="M461 3507H644"/><use href="#col" x="650" y="3495"/></g>
<g id="n8-2a"><text class="t" x="670" y="3500">你老谋深算、是没有人和想你长期合作的</text><path class="u" d="M663 3507H935"/></g>
<g id="n8-3"><text class="t" x="469" y="3530">3、建立了根据地了吗? 什么阶段?</text><path class="u" d="M461 3537H701"/><use href="#col" x="707" y="3525"/></g>
<g id="n8-3a"><text class="t" x="727" y="3530">就是再大的外部风险、你也不怕</text><path class="u" d="M720 3537H935"/></g>
<g id="n8-4"><text class="t" x="469" y="3559">4、真正有价值吗、到底在哪里?</text><path class="u" d="M461 3566H687"/><use href="#col" x="693" y="3554"/></g>
<g id="n8-4a"><text class="t" x="713" y="3559">关注源头，过程、结果是顺其自然的事情</text><path class="u" d="M706 3566H979"/></g>

<g id="n9"><rect class="b" x="320" y="3704" width="125" height="38" rx="4"/><text class="h" x="330" y="3730">8、终极结果</text><use href="#col" x="450" y="3723"/></g>
<g id="n9-1"><text class="t" x="469" y="3619">1、无为无情</text><path class="u" d="M461 3626H559"/><use href="#col" x="565" y="3614"/></g>
<g id="n9-1a"><text class="t" x="583" y="3595">寒门出贵子是情绪，大部分富二代特别是官二代特别优秀</text><path class="u" d="M576 3602H950"/></g>
<g id="n9-1b"><text class="t"><tspan x="583" y="3624">发上等愿，结中等缘，享下等福；择高处立，就平处坐，</tspan><tspan x="583" y="3643">向宽处行。</tspan></text><path class="u" d="M576 3650H950"/></g>
<g id="n9-2"><text class="t" x="469" y="3687">2、一视同仁</text><path class="u" d="M461 3694H559"/><use href="#col" x="565" y="3682"/></g>
<g id="n9-2a"><text class="t" x="583" y="3672">守一、执行、过程与结果</text><path class="u" d="M576 3679H750"/></g>
<g id="n9-2b"><text class="t" x="583" y="3701">一隔离就痛苦</text><path class="u" d="M576 3708H677"/></g>
<g id="n9-3"><text class="t" x="469" y="3745">3、实事求是</text><path class="u" d="M461 3752H559"/><use href="#col" x="565" y="3740"/></g>
<g id="n9-3a"><text class="t" x="583" y="3731">每天的行为、是假装还是扮演?</text><path class="u" d="M576 3738H793"/></g>
<g id="n9-3b"><text class="t" x="583" y="3760">做事不由东、累死白费工</text><path class="u" d="M576 3767H750"/></g>
<g id="n9-4"><text class="t" x="469" y="3814">4、和光同尘</text><path class="u" d="M461 3821H559"/><use href="#col" x="565" y="3809"/></g>
<g id="n9-4a"><text class="t" x="583" y="3790">钱是工具、不是目的</text><path class="u" d="M576 3797H721"/></g>
<g id="n9-4b"><text class="t"><tspan x="583" y="3819">真正融入进去，间接的感觉不能忽视，只是不能作为判断</tspan><tspan x="583" y="3838">的最后标准</tspan></text><path class="u" d="M576 3845H950"/></g>

<g id="n10"><rect class="b" x="320" y="3959" width="125" height="38" rx="4"/><text class="h" x="330" y="3985">9、针对普遍</text><use href="#col" x="450" y="3978"/></g>
<g id="n10-1"><text class="t" x="469" y="3874">1、人（人是一切）</text><path class="u" d="M461 3881H600"/><use href="#col" x="606" y="3869"/></g>
<g id="n10-1a"><text class="t" x="626" y="3874">子主题 1</text><path class="u" d="M620 3881H690"/></g>
<g id="n10-2"><text class="t" x="469" y="3903">2、机（匹配的机器设备）</text><path class="u" d="M461 3910H644"/></g>
<g id="n10-3"><text class="t" x="469" y="3932">3、料（巧妇难为无米之炊）</text><path class="u" d="M461 3939H658"/></g>
<g id="n10-4"><text class="t" x="469" y="3962">4、法（制度的可视化与可执行性）</text><path class="u" d="M461 3969H702"/></g>
<g id="n10-5"><text class="t" x="469" y="3991">5、环（环境、外部约束）</text><path class="u" d="M461 3998H644"/></g>
<g id="n10-6"><text class="t" x="469" y="4020">6、测（项目的仪表盘）</text><path class="u" d="M461 4027H629"/></g>
<g id="n10-7"><text class="t"><tspan x="469" y="4050">7、案例：“人”是驾驶者，“机”与“料”是战马与粮</tspan><tspan x="469" y="4069">草，“法”是导航图，“环”是路况</tspan></text><path class="u" d="M461 4076H831"/></g>
</svg>
